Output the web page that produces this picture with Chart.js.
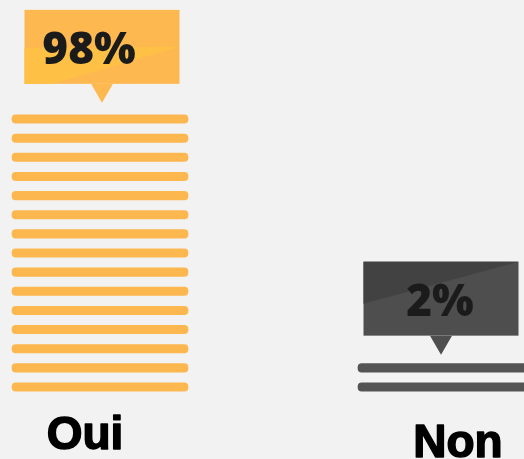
<!DOCTYPE html>
<html>
<head>
<meta charset="utf-8">
<script src="https://cdn.jsdelivr.net/npm/chart.js@4.4.1/dist/chart.umd.min.js"></script>
<style>
  html, body { margin: 0; padding: 0; background: #f2f2f2; overflow: hidden; }
  #wrap { position: relative; width: 524px; height: 459px; }
</style>
</head>
<body>
<div id="wrap"><canvas id="chart"></canvas></div>
<script>
// values
const categories = ["Oui", "Non"];
const percentages = [98, 2];
const stripeCounts = [15, 2];
const valueLabels = ["98%", "2%"];

const stripeColors = ["#fdb74f", "#545454"];
const boxColors = ["#fdb94f", "#4d4e4d"];
const boxShades = ["#fec146", "#424242"];

const halfStripe = 0.22;

const datasets = categories.map((cat, i) => ({
  label: cat,
  data: Array.from({ length: stripeCounts[i] }, (_, k) => ({
    x: i,
    y: [k - halfStripe, k + halfStripe],
  })),
  backgroundColor: stripeColors[i],
  borderWidth: 0,
  borderRadius: 4,
  borderSkipped: false,
  barThickness: 176,
  grouped: false,
}));

const calloutPlugin = {
  id: "callouts",
  afterDatasetsDraw(chart) {
    const ctx = chart.ctx;
    const xScale = chart.scales.x;
    const boxW = 155, boxH = 74, tipH = 19, tipHalf = 11;
    const gaps = [12, 9];
    const boxShift = [2, -5];
    const textShift = [-13, -1];
    const labelShift = [-15, 12];
    const labelBase = [449, 457];

    chart.data.datasets.forEach((ds, i) => {
      const meta = chart.getDatasetMeta(i);
      const top = meta.data[meta.data.length - 1];
      const topY = Math.min(top.y, top.base);
      const cx = top.x + boxShift[i];
      const tipY = topY - gaps[i];
      const bx = cx - boxW / 2;
      const by = tipY - tipH - boxH;

      ctx.save();
      ctx.fillStyle = boxColors[i];
      ctx.fillRect(bx, by, boxW, boxH);
      ctx.beginPath();
      ctx.moveTo(cx - tipHalf, by + boxH);
      ctx.lineTo(cx + tipHalf, by + boxH);
      ctx.lineTo(cx, tipY);
      ctx.closePath();
      ctx.fill();

      // subtle diagonal shading on the box
      ctx.fillStyle = boxShades[i];
      ctx.beginPath();
      if (i === 0) {
        ctx.moveTo(bx, by + 38);
        ctx.lineTo(bx + boxW, by + 37);
        ctx.lineTo(bx + 28, by + boxH);
        ctx.lineTo(bx, by + boxH);
      } else {
        ctx.moveTo(bx, by);
        ctx.lineTo(bx + boxW, by);
        ctx.lineTo(bx, by + 42);
      }
      ctx.closePath();
      ctx.fill();

      ctx.textAlign = "center";
      ctx.textBaseline = "alphabetic";
      ctx.lineJoin = "round";

      ctx.fillStyle = "#1b1b1b";
      ctx.font = "800 44px 'Open Sans'";
      ctx.fillText(valueLabels[i], cx + textShift[i], by + 54);

      ctx.fillStyle = "#000000";
      ctx.strokeStyle = "#000000";
      ctx.lineWidth = 1.5;
      ctx.font = "bold 46px 'Liberation Sans'";
      const lx = xScale.getPixelForValue(i) + labelShift[i];
      ctx.fillText(categories[i], lx, labelBase[i]);
      ctx.strokeText(categories[i], lx, labelBase[i]);
      ctx.restore();
    });
  },
};

new Chart(document.getElementById("chart"), {
  type: "bar",
  data: { datasets },
  options: {
    responsive: true,
    maintainAspectRatio: false,
    animation: false,
    layout: { padding: 0 },
    plugins: {
      legend: { display: false },
      tooltip: { enabled: false },
    },
    scales: {
      x: { type: "linear", display: false, offset: false, min: -0.289, max: 1.2254 },
      y: { type: "linear", display: false, min: -3.762, max: 20.22 },
    },
  },
  plugins: [calloutPlugin],
});
</script>
</body>
</html>
